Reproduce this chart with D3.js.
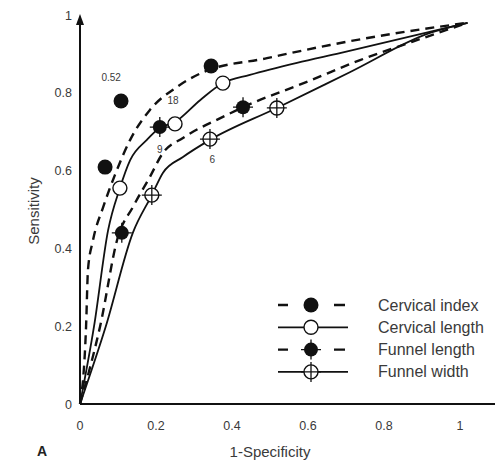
<!DOCTYPE html>
<html>
<head>
<meta charset="utf-8">
<script src="https://cdn.jsdelivr.net/npm/d3@7"></script>
<style>
  body { margin: 0; background: #fff; }
  text { font-family: "Liberation Sans", Arial, sans-serif; fill: #3a3a3a; }
</style>
</head>
<body>
<div id="chart"></div>
<script>
// curves as [1-specificity, sensitivity]
var cervicalIndexCurve = [[0, 0], [0.016, 0.2], [0.021, 0.345], [0.034, 0.42], [0.061, 0.506], [0.092, 0.589],
  [0.132, 0.679], [0.184, 0.756], [0.255, 0.815], [0.324, 0.853], [0.492, 0.889], [0.658, 0.923], [0.85, 0.956], [1.02, 0.98]]
var cervicalLengthCurve = [[0, 0], [0.037, 0.2], [0.074, 0.447], [0.105, 0.555], [0.132, 0.627], [0.176, 0.679],
  [0.21, 0.71], [0.25, 0.725], [0.316, 0.781], [0.376, 0.825], [0.447, 0.846], [0.571, 0.877], [0.684, 0.902], [1.02, 0.98]]
var funnelLengthCurve = [[0, 0], [0.053, 0.2], [0.1, 0.43], [0.139, 0.506], [0.184, 0.584], [0.218, 0.645],
  [0.271, 0.684], [0.376, 0.738], [0.429, 0.763], [0.597, 0.828], [0.737, 0.884], [0.874, 0.931], [1.02, 0.98]]
var funnelWidthCurve = [[0, 0], [0.068, 0.2], [0.139, 0.44], [0.189, 0.537], [0.218, 0.594], [0.271, 0.635],
  [0.342, 0.679], [0.518, 0.761], [0.71, 0.853], [0.921, 0.954], [1.02, 0.98]]

// observed points
var cervicalIndexPts = [[0.066, 0.609], [0.108, 0.779], [0.345, 0.869]]
var cervicalLengthPts = [[0.105, 0.555], [0.25, 0.72], [0.376, 0.825]]
var funnelLengthPts = [[0.11, 0.44], [0.21, 0.712], [0.429, 0.763]]
var funnelWidthPts = [[0.189, 0.537], [0.342, 0.681], [0.518, 0.761]]

// small labels next to points
var pointLabels = [
  { text: "0.52", x: 0.082, y: 0.83 },
  { text: "18", x: 0.245, y: 0.77 },
  { text: "9", x: 0.21, y: 0.645 },
  { text: "6", x: 0.348, y: 0.62 }
]

var xTicks = [0, 0.2, 0.4, 0.6, 0.8, 1]
var yTicks = [0, 0.2, 0.4, 0.6, 0.8, 1]
var legendNames = ["Cervical index", "Cervical length", "Funnel length", "Funnel width"]

var width = 495,
  height = 460

var svg = d3.select("#chart")
  .append("svg")
  .attr("width", width)
  .attr("height", height)

var x = d3.scaleLinear().domain([0, 1]).range([80, 460])
var y = d3.scaleLinear().domain([0, 1]).range([404, 15])

var fmt = function(d) { return d === 0 || d === 1 ? String(d) : d3.format(".1f")(d) }

// axes lines
svg.append("line")
  .attr("x1", x(0)).attr("x2", width)
  .attr("y1", y(0)).attr("y2", y(0))
  .attr("stroke", "#111").attr("stroke-width", 2.2)

svg.append("line")
  .attr("x1", x(0)).attr("x2", x(0))
  .attr("y1", y(0)).attr("y2", y(1) + 8)
  .attr("stroke", "#111").attr("stroke-width", 2)

svg.append("path")
  .attr("d", "M" + (x(0) - 4) + "," + (y(1) + 10) + "L" + x(0) + "," + (y(1) - 1) + "L" + (x(0) + 4) + "," + (y(1) + 10) + "Z")
  .attr("fill", "#111")

// tick labels
svg.append("g").selectAll("text")
  .data(xTicks)
  .enter()
  .append("text")
  .attr("x", function(d) { return x(d) })
  .attr("y", 430)
  .attr("text-anchor", "middle")
  .attr("font-size", 12.5)
  .text(fmt)

svg.append("g").selectAll("text")
  .data(yTicks)
  .enter()
  .append("text")
  .attr("x", 72)
  .attr("y", function(d) { return y(d) + 4.5 })
  .attr("text-anchor", "end")
  .attr("font-size", 12.5)
  .text(fmt)

svg.append("text")
  .attr("x", 270).attr("y", 457)
  .attr("text-anchor", "middle")
  .attr("font-size", 15)
  .text("1-Specificity")

svg.append("text")
  .attr("transform", "translate(39,211) rotate(-90)")
  .attr("text-anchor", "middle")
  .attr("font-size", 15)
  .text("Sensitivity")

svg.append("text")
  .attr("x", 37).attr("y", 456)
  .attr("font-size", 14)
  .attr("font-weight", "bold")
  .style("fill", "#222")
  .text("A")

// curves
var line = d3.line()
  .x(function(d) { return x(d[0]) })
  .y(function(d) { return y(d[1]) })
  .curve(d3.curveMonotoneX)

var curves = [
  { data: cervicalIndexCurve, dash: "9,6" },
  { data: cervicalLengthCurve, dash: null },
  { data: funnelLengthCurve, dash: "9,6" },
  { data: funnelWidthCurve, dash: null }
]

svg.append("g").selectAll("path")
  .data(curves)
  .enter()
  .append("path")
  .attr("d", function(d) { return line(d.data) })
  .attr("fill", "none")
  .attr("stroke", "#111")
  .attr("stroke-width", function(d) { return d.dash ? 2.4 : 1.8 })
  .attr("stroke-dasharray", function(d) { return d.dash })

// markers
function drawMarker(g, kind) {
  if (kind === 0) {
    g.append("circle").attr("r", 7.5).attr("fill", "#111")
  } else if (kind === 1) {
    g.append("circle").attr("r", 7).attr("fill", "#fff").attr("stroke", "#111").attr("stroke-width", 1.4)
  } else if (kind === 2) {
    g.append("path").attr("d", "M-10,0H10M0,-10V10").attr("stroke", "#111").attr("stroke-width", 1.3)
    g.append("circle").attr("r", 7).attr("fill", "#111")
  } else {
    g.append("circle").attr("r", 7).attr("fill", "#fff").attr("stroke", "#111").attr("stroke-width", 1.4)
    g.append("path").attr("d", "M-10,0H10M0,-10V10").attr("stroke", "#111").attr("stroke-width", 1.3)
  }
}

var pointSets = [cervicalIndexPts, cervicalLengthPts, funnelLengthPts, funnelWidthPts]
pointSets.forEach(function(pts, i) {
  svg.append("g").selectAll("g")
    .data(pts)
    .enter()
    .append("g")
    .attr("transform", function(d) { return "translate(" + x(d[0]) + "," + y(d[1]) + ")" })
    .each(function() { drawMarker(d3.select(this), i) })
})

svg.append("g").selectAll("text")
  .data(pointLabels)
  .enter()
  .append("text")
  .attr("x", function(d) { return x(d.x) })
  .attr("y", function(d) { return y(d.y) })
  .attr("text-anchor", "middle")
  .attr("font-size", 10)
  .text(function(d) { return d.text })

// legend
var legend = svg.append("g")
  .selectAll("g")
  .data(legendNames)
  .enter()
  .append("g")
  .attr("transform", function(d, i) { return "translate(0," + (305 + i * 22.3) + ")" })

legend.each(function(d, i) {
  var g = d3.select(this)
  if (i % 2 === 0) {
    g.append("path").attr("d", "M278,0H288M334,0H345").attr("stroke", "#111").attr("stroke-width", 2.4)
  } else {
    g.append("line").attr("x1", 278).attr("x2", 348).attr("stroke", "#111").attr("stroke-width", 1.8)
  }
  drawMarker(g.append("g").attr("transform", "translate(311,0)"), i)
  g.append("text")
    .attr("x", 378).attr("y", 5.5)
    .attr("font-size", 16)
    .text(d)
})
</script>
</body>
</html>
